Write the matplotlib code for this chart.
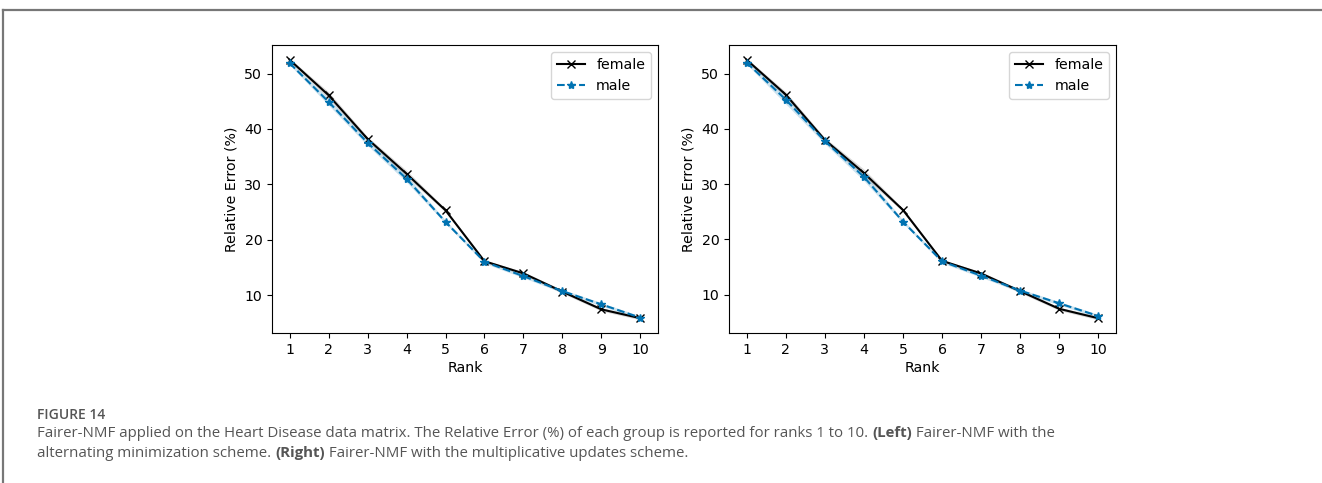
import matplotlib
matplotlib.use("Agg")
import matplotlib.pyplot as plt
import numpy as np

plt.rcParams["font.family"] = "DejaVu Sans"

ranks = np.arange(1, 11)

# relative error (%) per group, alternating minimization
female_am = [52.5, 46.1, 38.2, 31.9, 25.3, 16.1, 13.9, 10.6, 7.4, 5.8]
male_am = [51.9, 44.9, 37.5, 31.0, 23.2, 16.0, 13.4, 10.7, 8.3, 5.9]
female_am_std = [0.3, 0.6, 0.4, 0.6, 0.3, 0.2, 0.3, 0.3, 0.3, 0.3]
male_am_std = [0.3, 0.6, 0.5, 0.6, 0.3, 0.3, 0.3, 0.3, 0.3, 0.3]

# relative error (%) per group, multiplicative updates
female_mu = [52.5, 46.2, 38.0, 32.0, 25.3, 16.1, 13.8, 10.6, 7.4, 5.7]
male_mu = [52.0, 45.3, 37.8, 31.3, 23.2, 16.0, 13.4, 10.7, 8.4, 6.1]
female_mu_std = [0.3, 0.5, 0.4, 0.7, 0.3, 0.2, 0.3, 0.3, 0.3, 0.3]
male_mu_std = [0.3, 0.8, 0.5, 0.7, 0.3, 0.3, 0.3, 0.3, 0.3, 0.3]

blue = "#0173b2"
fs = 10.2

W, H = 1322, 483
fig = plt.figure(figsize=(W / 100, H / 100), dpi=100)


def panel(ax, fem, mal, fem_s, mal_s):
    fem, mal = np.array(fem), np.array(mal)
    fem_s, mal_s = np.array(fem_s), np.array(mal_s)
    ax.plot(ranks, fem, color="black", marker="x", markersize=6, lw=1.5, label="female")
    ax.fill_between(ranks, fem - fem_s, fem + fem_s, color="black", alpha=0.15, lw=0)
    ax.plot(ranks, mal, color=blue, marker="*", markersize=6, lw=1.5, ls="--", label="male")
    ax.fill_between(ranks, mal - mal_s, mal + mal_s, color=blue, alpha=0.2, lw=0)
    ax.set_xticks(ranks)
    ax.set_yticks([10, 20, 30, 40, 50])
    ax.tick_params(labelsize=fs)
    ax.set_xlabel("Rank", fontsize=fs, labelpad=3)
    ax.set_ylabel("Relative Error (%)", fontsize=fs)
    ax.legend(loc="upper right", fontsize=fs)


ax1 = fig.add_axes([272 / W, 1 - 333 / H, 386 / W, 288 / H])
ax2 = fig.add_axes([729 / W, 1 - 333 / H, 387 / W, 288 / H])
panel(ax1, female_am, male_am, female_am_std, male_am_std)
panel(ax2, female_mu, male_mu, female_mu_std, male_mu_std)

# page frame (top and left rules)
frame = "#777777"
fig.add_artist(plt.Line2D([3 / W, 1], [1 - 10 / H, 1 - 10 / H], color=frame, lw=1.6))
fig.add_artist(plt.Line2D([3 / W, 3 / W], [0, 1 - 10 / H], color=frame, lw=1.6))

# caption
cap_color = "#555555"
fig.text(37 / W, 1 - 419 / H, "FIGURE 14", fontsize=10, fontweight="semibold",
         family="Open Sans", color=cap_color)

renderer = fig.canvas.get_renderer()


def rich_line(x, y, parts):
    for txt, bold in parts:
        t = fig.text(x, y, txt, fontsize=10.8, family="Open Sans", color=cap_color,
                     fontweight="bold" if bold else "normal")
        bb = t.get_window_extent(renderer)
        x = x + bb.width / W


line1 = [("Fairer-NMF applied on the Heart Disease data matrix. The Relative Error (%) of each "
          "group is reported for ranks 1 to 10. ", False),
         ("(Left)", True), (" Fairer-NMF with the", False)]
line2 = [("alternating minimization scheme. ", False), ("(Right)", True),
         (" Fairer-NMF with the multiplicative updates scheme.", False)]
rich_line(37 / W, 1 - 437 / H, line1)
rich_line(37 / W, 1 - 457 / H, line2)

fig.savefig("out.png", dpi=100)
